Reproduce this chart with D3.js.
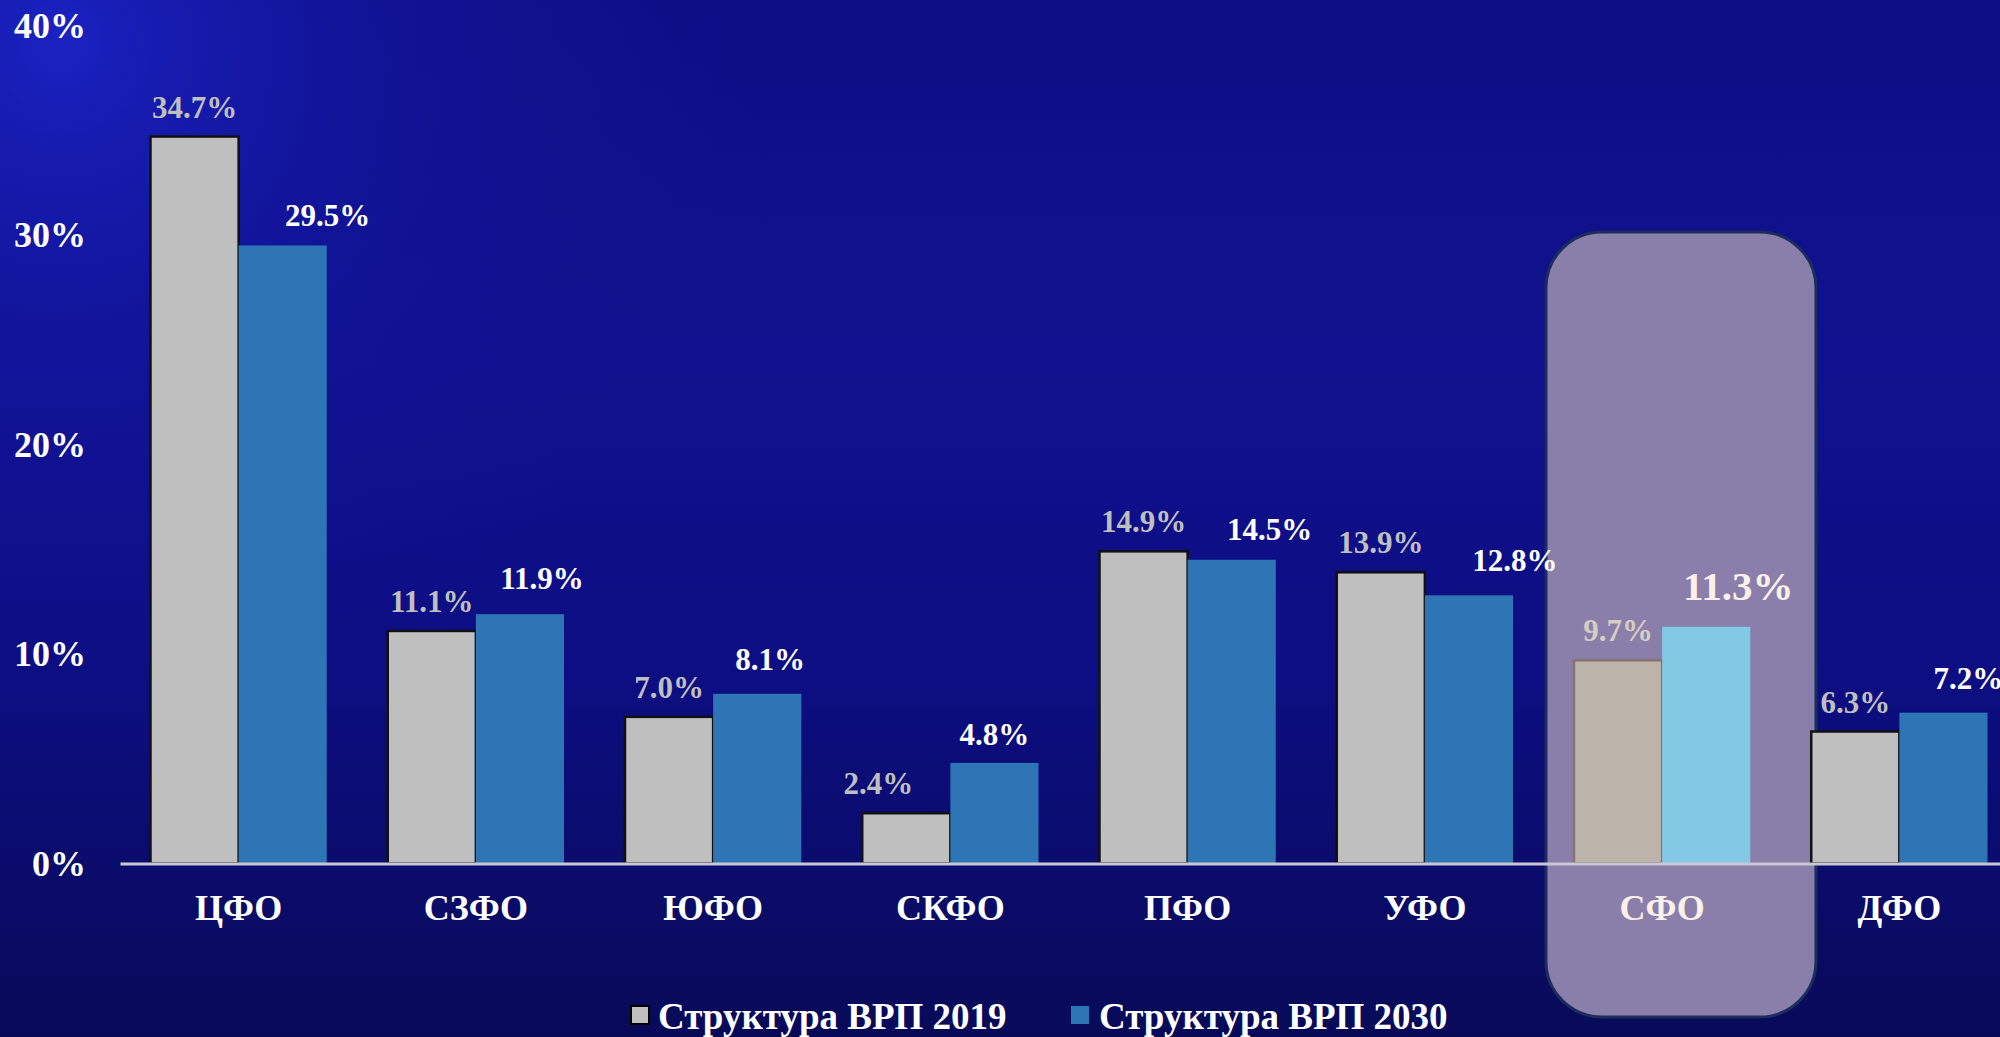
<!DOCTYPE html>
<html>
<head>
<meta charset="utf-8">
<script src="https://cdn.jsdelivr.net/npm/d3@7"></script>
<style>
  html, body { margin: 0; padding: 0; background: #0d0e80; overflow: hidden; }
  svg { display: block; }
  text { font-family: "Liberation Serif", "Times New Roman", serif; font-weight: bold; }
</style>
</head>
<body>
<svg id="chart"></svg>
<script>
const regions = ["ЦФО", "СЗФО", "ЮФО", "СКФО", "ПФО", "УФО", "СФО", "ДФО"];
const vrp2019 = [34.7, 11.1, 7.0, 2.4, 14.9, 13.9, 9.7, 6.3];
const vrp2030 = [29.5, 11.9, 8.1, 4.8, 14.5, 12.8, 11.3, 7.2];
const seriesNames = ["Структура ВРП 2019", "Структура ВРП 2030"];
const yTicks = [0, 10, 20, 30, 40];
const highlighted = "СФО";

// hand placed label nudges (px), like in the original slide
const nudge2019 = [0, 0, 0, -28, 0, 0, 0, 0];
const nudge2030 = [45, 22, 13, 0, 38, 46, 32, 25];
const lift2030 = [19, 25, 24, 18, 20, 24, 27, 24];

const width = 2000;
const height = 1037;

const svg = d3.select("#chart")
  .attr("width", width)
  .attr("height", height);

const defs = svg.append("defs");
const lin = defs.append("linearGradient")
  .attr("id", "bg-lin")
  .attr("x1", 0).attr("y1", 0).attr("x2", 0).attr("y2", 1);
lin.append("stop").attr("offset", "0%").attr("stop-color", "#0e0f86");
lin.append("stop").attr("offset", "35%").attr("stop-color", "#10118e");
lin.append("stop").attr("offset", "65%").attr("stop-color", "#0d0e82");
lin.append("stop").attr("offset", "100%").attr("stop-color", "#080a58");

const rad = defs.append("radialGradient")
  .attr("id", "bg-glow")
  .attr("gradientUnits", "userSpaceOnUse")
  .attr("cx", 60).attr("cy", 40).attr("r", 700);
rad.append("stop").attr("offset", "0%").attr("stop-color", "#1c24c8").attr("stop-opacity", 0.9);
rad.append("stop").attr("offset", "45%").attr("stop-color", "#1418a8").attr("stop-opacity", 0.45);
rad.append("stop").attr("offset", "100%").attr("stop-color", "#10128e").attr("stop-opacity", 0);

svg.append("rect").attr("width", width).attr("height", height).attr("fill", "url(#bg-lin)");
svg.append("rect").attr("width", width).attr("height", height).attr("fill", "url(#bg-glow)");

const data = regions.map((r, i) => ({ region: r, v2019: vrp2019[i], v2030: vrp2030[i], i: i }));

const x0 = d3.scaleBand()
  .domain(regions)
  .range([120, 2018])
  .paddingInner(0.257)
  .paddingOuter(0.1285);

const x1 = d3.scaleBand()
  .domain(seriesNames)
  .range([0, x0.bandwidth()]);

const y = d3.scaleLinear()
  .domain([0, 40])
  .range([863.5, 25.5]);

// highlight box behind СФО (sits a bit right of the group, as on the slide)
svg.append("rect")
  .attr("x", x0(highlighted) - 28)
  .attr("y", 232)
  .attr("width", 270)
  .attr("height", 785)
  .attr("rx", 56)
  .attr("fill", "#8a7fab")
  .attr("stroke", "#1c2c5c")
  .attr("stroke-width", 3);

// y axis labels
const yAxis = d3.axisLeft(y)
  .tickValues(yTicks)
  .tickFormat(d => d + "%")
  .tickSize(0)
  .tickPadding(0);

svg.append("g")
  .attr("transform", "translate(86,0)")
  .call(yAxis)
  .call(g => g.select(".domain").remove())
  .call(g => g.selectAll("text")
    .attr("fill", "#ffffff")
    .attr("font-size", 36)
    .attr("font-family", "Liberation Serif, Times New Roman, serif")
    .attr("font-weight", "bold"));

const groups = svg.append("g")
  .selectAll("g")
  .data(data)
  .join("g")
  .attr("transform", d => `translate(${x0(d.region)},0)`);

groups.append("rect")
  .attr("x", x1(seriesNames[0]))
  .attr("y", d => y(d.v2019))
  .attr("width", x1.bandwidth())
  .attr("height", d => y(0) - y(d.v2019))
  .attr("fill", d => d.region === highlighted ? "#bcb3aa" : "#bfbfbf")
  .attr("stroke", d => d.region === highlighted ? "#85766c" : "#111111")
  .attr("stroke-width", 2.5);

groups.append("rect")
  .attr("x", x1(seriesNames[1]))
  .attr("y", d => y(d.v2030))
  .attr("width", x1.bandwidth())
  .attr("height", d => y(0) - y(d.v2030))
  .attr("fill", d => d.region === highlighted ? "#83c9e3" : "#2e75b6");

// x axis
const xAxis = d3.axisBottom(x0)
  .tickSize(0)
  .tickSizeOuter(0)
  .tickPadding(31);

svg.append("g")
  .attr("transform", `translate(0,${y(0)})`)
  .call(xAxis)
  .call(g => g.select(".domain").attr("stroke", "#c8c8d4").attr("stroke-width", 3))
  .call(g => g.selectAll("text")
    .attr("fill", d => d === highlighted ? "#fbf1e8" : "#ffffff")
    .attr("font-size", 36)
    .attr("font-family", "Liberation Serif, Times New Roman, serif")
    .attr("font-weight", "bold"));

// value labels
groups.append("text")
  .attr("x", d => x1(seriesNames[0]) + x1.bandwidth() / 2 + nudge2019[d.i])
  .attr("y", d => y(d.v2019) - 19)
  .attr("text-anchor", "middle")
  .attr("font-size", 31)
  .attr("fill", d => d.region === highlighted ? "#d6cdc3" : "#bfbfbf")
  .text(d => d.v2019.toFixed(1) + "%");

groups.append("text")
  .attr("x", d => x1(seriesNames[1]) + x1.bandwidth() / 2 + nudge2030[d.i])
  .attr("y", d => y(d.v2030) - lift2030[d.i])
  .attr("text-anchor", "middle")
  .attr("font-size", d => d.region === highlighted ? 41 : 31)
  .attr("fill", d => d.region === highlighted ? "#fbf1e8" : "#ffffff")
  .text(d => d.v2030.toFixed(1) + "%");

// legend
const legendColors = ["#bfbfbf", "#2e75b6"];
const legendX = [631, 1071];
const legend = svg.append("g")
  .selectAll("g")
  .data(seriesNames)
  .join("g")
  .attr("transform", (d, i) => `translate(${legendX[i]},1006)`);

legend.append("rect")
  .attr("width", 18)
  .attr("height", 18)
  .attr("fill", (d, i) => legendColors[i])
  .attr("stroke", (d, i) => i === 0 ? "#000000" : "none")
  .attr("stroke-width", 2);

legend.append("text")
  .attr("x", (d, i) => i === 0 ? 27 : 28)
  .attr("y", 23)
  .attr("font-size", 37)
  .attr("fill", "#ffffff")
  .text(d => d);
</script>
</body>
</html>
